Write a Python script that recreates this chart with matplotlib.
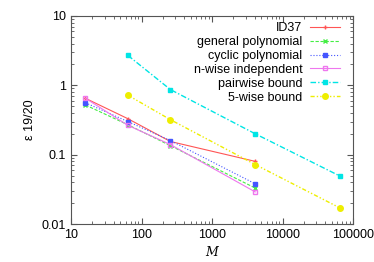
import matplotlib
matplotlib.use("Agg")
import matplotlib.pyplot as plt

plt.rcParams['font.family'] = ['Liberation Sans', 'DejaVu Sans']

m_small = [16, 64, 256, 4096]
m_bound = [64, 256, 4096, 65536]

id37 = [0.65, 0.33, 0.155, 0.08]
general_poly = [0.52, 0.27, 0.135, 0.033]
cyclic_poly = [0.56, 0.30, 0.16, 0.038]
nwise = [0.65, 0.265, 0.14, 0.029]
pairwise = [2.7, 0.87, 0.20, 0.049]
fivewise = [0.72, 0.32, 0.072, 0.017]

fig = plt.figure(figsize=(3.74, 2.62), dpi=100)
ax = fig.add_axes([0.19, 0.145, 0.754, 0.794])

ax.plot(m_small, id37, color='#ff5555', lw=0.8, ls='-', marker='+', ms=3, label='ID37')
ax.plot(m_small, general_poly, color='#44ee44', lw=0.8, ls=(0, (3, 1.5)), marker='x', ms=3, label='general polynomial')
ax.plot(m_small, cyclic_poly, color='#4455ff', lw=0.8, ls=':', marker='s', ms=2.5, label='cyclic polynomial')
ax.plot(m_small, nwise, color='#ee77ee', lw=0.8, ls='-', marker='s', ms=3.5, mfc='none', label='n-wise independent')
ax.plot(m_bound, pairwise, color='#00e5e5', lw=1.0, ls=(0, (4, 1.5, 1, 1.5)), marker='s', ms=3.5, label='pairwise bound')
ax.plot(m_bound, fivewise, color='#eeee00', lw=1.0, ls=(0, (3, 1.5, 1, 1.5, 1, 1.5)), marker='o', ms=4, label='5-wise bound')

ax.set_xscale('log')
ax.set_yscale('log')
ax.set_xlim(10, 100000)
ax.set_ylim(0.01, 10)
ax.set_xticks([10, 100, 1000, 10000, 100000])
ax.set_xticklabels(['10', '100', '1000', '10000', '100000'])
ax.set_yticks([0.01, 0.1, 1, 10])
ax.set_yticklabels(['0.01', '0.1', '1', '10'])
ax.tick_params(which='both', direction='in', top=True, right=True, labelsize=9, color='#555555')
ax.tick_params(which='major', length=4)
ax.tick_params(which='minor', length=2)
for s in ax.spines.values():
    s.set_color('#555555')
ax.set_xlabel('M', fontstyle='italic', fontsize=9, family='DejaVu Serif')
ax.set_ylabel('ε 19/20', fontsize=9)

ax.legend(loc='upper right', bbox_to_anchor=(0.975, 1.0), markerfirst=False, frameon=False, fontsize=9,
          handlelength=2.4, labelspacing=0.15, borderaxespad=0.1, handletextpad=0.6)

fig.savefig('out.png', dpi=100)
